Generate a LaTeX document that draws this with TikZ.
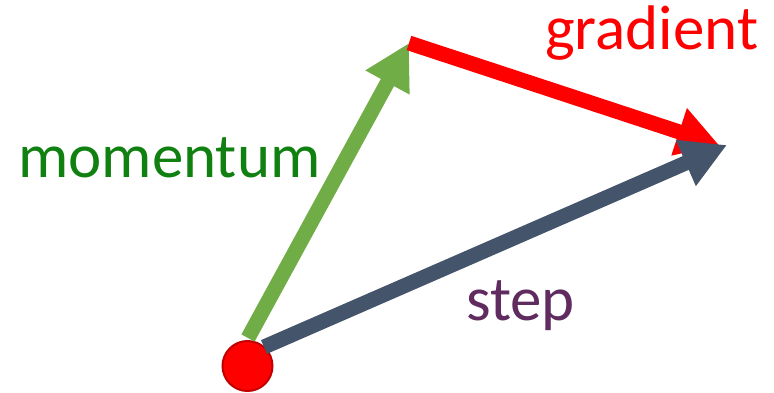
\documentclass[tikz,border=0pt]{standalone}
\usepackage{fontspec}
\setmainfont{Carlito}
\usetikzlibrary{arrows.meta}
\definecolor{mgreen}{RGB}{112,173,71}
\definecolor{mred}{RGB}{255,0,0}
\definecolor{mdark}{RGB}{68,84,106}
\definecolor{dred}{RGB}{192,0,0}
\definecolor{tgreen}{RGB}{16,128,16}
\definecolor{tpurple}{RGB}{96,44,96}
\tikzset{
  vec/.style={line width=15pt, -{Triangle[length=45pt,width=47pt]}},
  lbl/.style={inner sep=0pt, anchor=base west, font=\fontsize{63}{70}\selectfont},
}
\begin{document}
\begin{tikzpicture}[x=1pt,y=-1pt]
\useasboundingbox (0,0) rectangle (774,393);
\node[circle, fill=mred, draw=dred, line width=2pt, minimum size=50pt, inner sep=0pt] (o) at (247.5,366) {};
\coordinate (mstart) at (248,338);
\coordinate (top) at (409,43);
\coordinate (gtip) at (719,145);
\coordinate (sstart) at (264,347);
\coordinate (stip) at (727,145);
\draw[vec, mgreen] (mstart) -- (top);
\draw[vec, mred, -{Triangle[length=42pt,width=47pt]}] (top) -- (gtip);
\draw[vec, mdark] (sstart) -- (stip);
\node[lbl, text=tgreen] (mom) at (18,178) {momentum};
\node[lbl, text=mred] (grad) at (545,50) {gradient};
\node[lbl, text=tpurple] (step) at (466,320) {step};
\end{tikzpicture}
\end{document}
